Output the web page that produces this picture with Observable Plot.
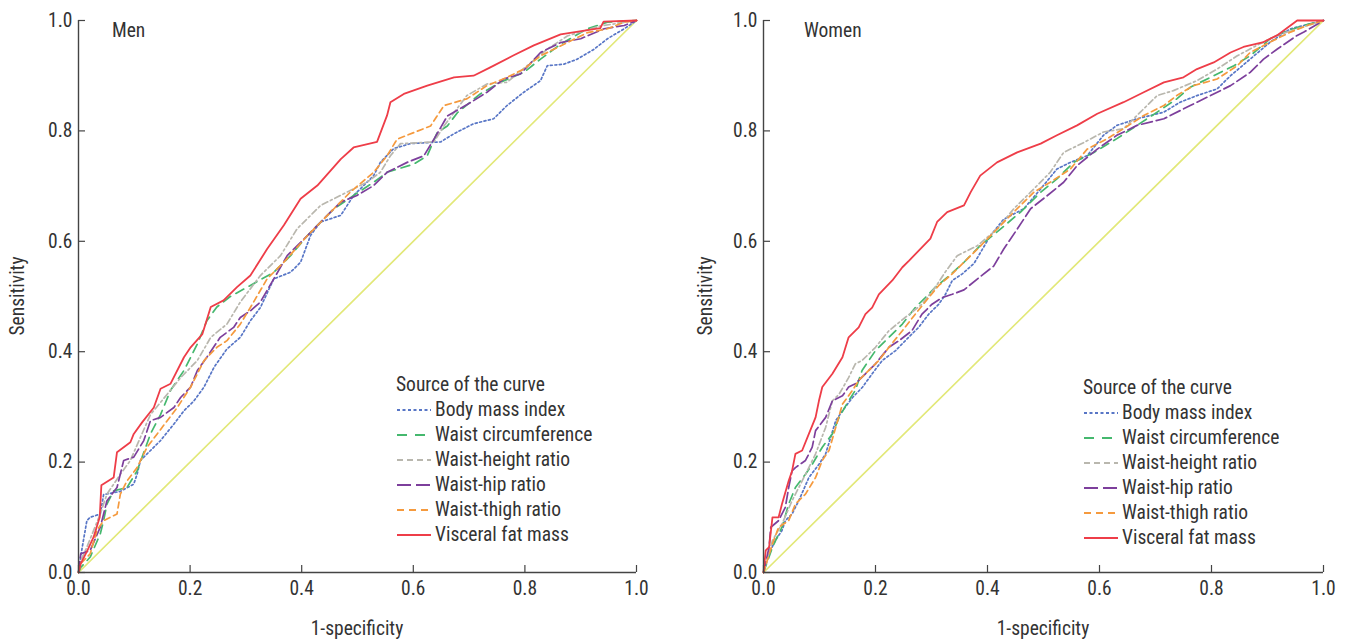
<!DOCTYPE html>
<html><head><meta charset="utf-8">
<script src="https://cdn.jsdelivr.net/npm/d3@7"></script>
<script src="https://cdn.jsdelivr.net/npm/@observablehq/plot@0.6"></script>
<style>
body{margin:0;background:#fff;}
#wrap{position:relative;width:1345px;height:641px;overflow:hidden;font-family:"Liberation Sans Narrow","Arial Narrow","Roboto Condensed",sans-serif;color:#333;}
.panel{position:absolute;top:0;}
.lbl{position:absolute;font-size:19.5px;white-space:nowrap;line-height:22px;}
.rot{transform:translate(-50%,-50%) rotate(-90deg);}
.ctr{transform:translate(-50%,-50%);}
.legend{position:absolute;font-size:19.5px;line-height:25px;white-space:nowrap;}
.legend div{height:25px;}
.legend svg{vertical-align:top;}
</style></head>
<body><div id="wrap"></div>
<script>
// ---- data ----
const seriesNames = ["Body mass index","Waist circumference","Waist-height ratio","Waist-hip ratio","Waist-thigh ratio","Visceral fat mass"];
const seriesColors = ["#5876c6","#45b86e","#b9b7ae","#7d3f9c","#f59a3e","#ee3d48"];
const seriesDash = ["2,2.5","9,6","6,3,2,3","11,4","6,4",null];
const legendDash = ["3,2.5","10,8","6,4","14,5","7,5",null];
const refColor = "#e2e878";
const xTicks = [0,0.2,0.4,0.6,0.8,1.0];
const yTicks = [0,0.2,0.4,0.6,0.8,1.0];
const refLine = [[0,0],[1,1]];

const menBMI = [[0,0],[0.004,0.03],[0.015,0.094],[0.021,0.1],[0.039,0.106],[0.045,0.141],[0.075,0.147],[0.099,0.16],[0.105,0.178],[0.111,0.203],[0.129,0.221],[0.147,0.239],[0.171,0.269],[0.189,0.293],[0.207,0.311],[0.225,0.336],[0.243,0.372],[0.266,0.405],[0.29,0.426],[0.308,0.456],[0.326,0.48],[0.35,0.532],[0.38,0.544],[0.398,0.562],[0.416,0.611],[0.434,0.635],[0.47,0.647],[0.493,0.683],[0.511,0.701],[0.529,0.719],[0.541,0.743],[0.565,0.768],[0.595,0.777],[0.649,0.78],[0.673,0.795],[0.708,0.813],[0.744,0.822],[0.768,0.846],[0.798,0.87],[0.828,0.891],[0.84,0.918],[0.87,0.921],[0.894,0.93],[0.924,0.948],[0.948,0.967],[0.978,0.985],[1,1]];
const menWC = [[0,0],[0.004,0.009],[0.021,0.028],[0.039,0.07],[0.045,0.094],[0.051,0.124],[0.063,0.148],[0.087,0.154],[0.105,0.184],[0.129,0.251],[0.147,0.286],[0.165,0.33],[0.189,0.366],[0.213,0.414],[0.23,0.456],[0.248,0.481],[0.272,0.5],[0.308,0.52],[0.35,0.544],[0.38,0.574],[0.41,0.61],[0.434,0.635],[0.458,0.659],[0.493,0.683],[0.529,0.707],[0.553,0.725],[0.601,0.74],[0.625,0.755],[0.643,0.797],[0.661,0.809],[0.679,0.833],[0.72,0.867],[0.756,0.888],[0.798,0.906],[0.828,0.93],[0.864,0.957],[0.912,0.985],[0.948,0.997],[1,1]];
const menWHtR = [[0,0],[0.004,0.021],[0.015,0.046],[0.039,0.106],[0.051,0.142],[0.075,0.178],[0.093,0.203],[0.111,0.245],[0.129,0.286],[0.159,0.323],[0.183,0.353],[0.213,0.384],[0.237,0.426],[0.266,0.45],[0.29,0.49],[0.326,0.538],[0.362,0.574],[0.392,0.623],[0.434,0.665],[0.481,0.689],[0.517,0.707],[0.541,0.725],[0.559,0.755],[0.577,0.777],[0.637,0.78],[0.655,0.809],[0.696,0.864],[0.732,0.885],[0.768,0.888],[0.804,0.918],[0.84,0.948],[0.876,0.972],[0.935,0.99],[1,1]];
const menWHR = [[0,0],[0.004,0.034],[0.021,0.04],[0.039,0.082],[0.051,0.13],[0.069,0.154],[0.081,0.203],[0.099,0.209],[0.117,0.239],[0.129,0.275],[0.147,0.281],[0.171,0.299],[0.183,0.317],[0.201,0.336],[0.213,0.366],[0.23,0.39],[0.254,0.426],[0.278,0.444],[0.29,0.462],[0.308,0.474],[0.326,0.49],[0.35,0.532],[0.374,0.574],[0.41,0.61],[0.434,0.635],[0.47,0.671],[0.499,0.683],[0.529,0.701],[0.553,0.725],[0.589,0.743],[0.619,0.755],[0.637,0.785],[0.661,0.827],[0.702,0.851],[0.732,0.87],[0.762,0.894],[0.792,0.903],[0.828,0.942],[0.864,0.96],[0.9,0.967],[0.942,0.985],[0.978,0.991],[1,1]];
const menWTR = [[0,0],[0.004,0.016],[0.021,0.034],[0.033,0.076],[0.045,0.094],[0.069,0.106],[0.075,0.142],[0.087,0.166],[0.105,0.19],[0.123,0.227],[0.141,0.251],[0.159,0.275],[0.177,0.299],[0.201,0.336],[0.225,0.384],[0.248,0.408],[0.266,0.42],[0.29,0.45],[0.308,0.48],[0.338,0.532],[0.368,0.562],[0.41,0.61],[0.452,0.653],[0.487,0.689],[0.529,0.725],[0.553,0.755],[0.571,0.785],[0.601,0.797],[0.631,0.809],[0.655,0.846],[0.696,0.858],[0.732,0.882],[0.768,0.897],[0.798,0.912],[0.828,0.936],[0.876,0.96],[0.912,0.978],[0.948,0.985],[0.978,0.997],[1,1]];
const menVFM = [[0,0],[0.004,0.016],[0.016,0.04],[0.027,0.064],[0.038,0.1],[0.041,0.158],[0.063,0.172],[0.069,0.218],[0.093,0.236],[0.099,0.251],[0.114,0.272],[0.135,0.299],[0.147,0.333],[0.165,0.342],[0.189,0.39],[0.201,0.408],[0.222,0.432],[0.237,0.481],[0.26,0.493],[0.284,0.517],[0.308,0.538],[0.338,0.586],[0.368,0.629],[0.398,0.677],[0.428,0.701],[0.47,0.749],[0.493,0.77],[0.535,0.78],[0.553,0.828],[0.559,0.852],[0.583,0.867],[0.625,0.882],[0.673,0.897],[0.708,0.9],[0.738,0.915],[0.78,0.937],[0.816,0.955],[0.864,0.975],[0.935,0.986],[0.941,0.998],[1,1]];

const womenBMI = [[0,0],[0.01,0.034],[0.021,0.058],[0.033,0.076],[0.039,0.094],[0.051,0.106],[0.063,0.13],[0.081,0.172],[0.099,0.196],[0.111,0.215],[0.129,0.275],[0.141,0.293],[0.159,0.317],[0.177,0.336],[0.194,0.36],[0.212,0.384],[0.236,0.402],[0.259,0.426],[0.277,0.444],[0.295,0.468],[0.313,0.486],[0.325,0.504],[0.337,0.529],[0.355,0.541],[0.376,0.56],[0.405,0.61],[0.429,0.64],[0.465,0.659],[0.495,0.695],[0.524,0.731],[0.548,0.743],[0.578,0.755],[0.607,0.792],[0.631,0.81],[0.667,0.822],[0.715,0.834],[0.744,0.852],[0.774,0.864],[0.81,0.876],[0.834,0.9],[0.869,0.93],[0.905,0.961],[0.941,0.985],[1,1]];
const womenWC = [[0,0],[0.016,0.046],[0.033,0.082],[0.045,0.124],[0.057,0.154],[0.075,0.178],[0.087,0.196],[0.105,0.227],[0.123,0.251],[0.135,0.281],[0.152,0.311],[0.164,0.33],[0.176,0.366],[0.188,0.384],[0.2,0.402],[0.224,0.426],[0.248,0.45],[0.271,0.48],[0.289,0.498],[0.307,0.517],[0.331,0.537],[0.358,0.562],[0.387,0.592],[0.423,0.622],[0.459,0.653],[0.495,0.689],[0.524,0.713],[0.554,0.743],[0.59,0.761],[0.631,0.786],[0.667,0.81],[0.703,0.834],[0.738,0.858],[0.762,0.879],[0.804,0.9],[0.84,0.918],[0.869,0.936],[0.905,0.967],[0.929,0.979],[0.965,0.991],[1,1]];
const womenWHtR = [[0,0],[0.016,0.058],[0.033,0.088],[0.051,0.13],[0.069,0.166],[0.081,0.19],[0.093,0.215],[0.111,0.263],[0.123,0.311],[0.135,0.323],[0.152,0.353],[0.164,0.378],[0.176,0.384],[0.2,0.408],[0.224,0.438],[0.253,0.462],[0.283,0.486],[0.307,0.517],[0.325,0.545],[0.346,0.574],[0.382,0.592],[0.417,0.622],[0.447,0.659],[0.477,0.689],[0.512,0.725],[0.536,0.761],[0.572,0.779],[0.607,0.798],[0.643,0.804],[0.673,0.834],[0.703,0.864],[0.732,0.873],[0.774,0.891],[0.81,0.912],[0.846,0.936],[0.881,0.955],[0.917,0.973],[0.953,0.985],[1,1]];
const womenWHR = [[0,0],[0.01,0.046],[0.013,0.082],[0.027,0.094],[0.039,0.118],[0.045,0.154],[0.051,0.184],[0.057,0.19],[0.075,0.203],[0.087,0.227],[0.093,0.257],[0.111,0.281],[0.123,0.311],[0.141,0.32],[0.152,0.336],[0.164,0.342],[0.182,0.36],[0.2,0.378],[0.224,0.408],[0.242,0.42],[0.265,0.438],[0.283,0.468],[0.301,0.486],[0.319,0.498],[0.337,0.504],[0.358,0.512],[0.387,0.536],[0.411,0.555],[0.429,0.586],[0.453,0.622],[0.477,0.659],[0.507,0.683],[0.536,0.707],[0.56,0.737],[0.596,0.767],[0.631,0.792],[0.667,0.81],[0.715,0.822],[0.762,0.846],[0.798,0.864],[0.834,0.882],[0.869,0.906],[0.893,0.93],[0.917,0.948],[0.953,0.973],[0.965,0.979],[1,1]];
const womenWTR = [[0,0],[0.016,0.052],[0.027,0.082],[0.045,0.094],[0.057,0.124],[0.075,0.142],[0.093,0.172],[0.105,0.203],[0.117,0.221],[0.129,0.263],[0.141,0.305],[0.159,0.33],[0.17,0.348],[0.188,0.366],[0.206,0.384],[0.224,0.408],[0.248,0.438],[0.271,0.468],[0.295,0.498],[0.313,0.52],[0.337,0.541],[0.355,0.559],[0.382,0.586],[0.411,0.616],[0.447,0.653],[0.483,0.689],[0.512,0.707],[0.548,0.731],[0.578,0.767],[0.614,0.786],[0.643,0.804],[0.679,0.828],[0.715,0.846],[0.738,0.864],[0.768,0.882],[0.81,0.894],[0.846,0.918],[0.869,0.942],[0.905,0.961],[0.941,0.979],[0.971,0.991],[1,1]];
const womenVFM = [[0,0],[0.004,0.04],[0.01,0.046],[0.016,0.1],[0.027,0.1],[0.033,0.124],[0.045,0.166],[0.051,0.184],[0.057,0.215],[0.069,0.221],[0.081,0.251],[0.093,0.281],[0.099,0.311],[0.105,0.336],[0.123,0.36],[0.141,0.39],[0.152,0.426],[0.17,0.444],[0.182,0.468],[0.194,0.48],[0.206,0.504],[0.23,0.529],[0.248,0.553],[0.26,0.565],[0.298,0.605],[0.31,0.635],[0.328,0.653],[0.358,0.665],[0.37,0.689],[0.387,0.719],[0.417,0.743],[0.453,0.761],[0.495,0.777],[0.524,0.792],[0.56,0.81],[0.596,0.831],[0.643,0.852],[0.679,0.87],[0.715,0.888],[0.75,0.897],[0.774,0.912],[0.804,0.924],[0.834,0.942],[0.857,0.952],[0.893,0.961],[0.917,0.973],[0.941,0.991],[0.953,1],[1,1]];

const panels = [
  {title:"Men", series:[menBMI,menWC,menWHtR,menWHR,menWTR,menVFM], left:0, width:672, ml:78, mr:36,
   titlePos:[112,31], yLab:[18,296], xLab:[357,629], legend:[396,372]},
  {title:"Women", series:[womenBMI,womenWC,womenWHtR,womenWHR,womenWTR,womenVFM], left:672, width:673, ml:91, mr:22,
   titlePos:[804,31], yLab:[706,296], xLab:[1043,629], legend:[1083,375]}
];

const H = 641, MT = 20, MB = 69;
const wrap = document.getElementById("wrap");
const fontFam = '"Liberation Sans Narrow","Arial Narrow","Roboto Condensed",sans-serif';

panels.forEach(p => {
  const plotW = p.width - p.ml - p.mr, plotH = H - MT - MB;
  const marks = [
    Plot.line(refLine, {x: d => d[0], y: d => d[1], stroke: refColor, strokeWidth: 1.7})
  ];
  p.series.forEach((s, i) => {
    marks.push(Plot.line(s, {x: d => d[0], y: d => d[1], stroke: seriesColors[i],
      strokeWidth: i === 5 ? 1.8 : 1.7, strokeDasharray: seriesDash[i] || undefined}));
  });
  marks.push(
    Plot.ruleX([0], {stroke: "#444", strokeWidth: 1.4}),
    Plot.ruleY([0], {stroke: "#444", strokeWidth: 1.4}),
    Plot.tickX(xTicks, {x: d => d, stroke: "#444", strokeWidth: 1.2, insetTop: plotH - 7}),
    Plot.tickY(yTicks, {y: d => d, stroke: "#444", strokeWidth: 1.2, insetRight: plotW - 7}),
    Plot.axisX(xTicks, {tickSize: 0, tickPadding: 9, tickFormat: d3.format(".1f"), label: null, fill: "#333"}),
    Plot.axisY(yTicks, {tickSize: 0, tickPadding: 6, tickFormat: d3.format(".1f"), label: null, fill: "#333"})
  );
  const chart = Plot.plot({
    width: p.width, height: H,
    marginLeft: p.ml, marginRight: p.mr, marginTop: MT, marginBottom: MB,
    x: {domain: [0, 1]}, y: {domain: [0, 1]},
    style: {fontSize: "19.5px", fontFamily: fontFam, background: "transparent", color: "#333"},
    marks
  });
  chart.classList.add("panel");
  chart.style.left = p.left + "px";
  wrap.appendChild(chart);

  const t = document.createElement("div");
  t.className = "lbl"; t.textContent = p.title;
  t.style.left = p.titlePos[0] + "px"; t.style.top = (p.titlePos[1] - 11) + "px";
  wrap.appendChild(t);

  const yl = document.createElement("div");
  yl.className = "lbl rot"; yl.textContent = "Sensitivity";
  yl.style.left = p.yLab[0] + "px"; yl.style.top = p.yLab[1] + "px";
  wrap.appendChild(yl);

  const xl = document.createElement("div");
  xl.className = "lbl ctr"; xl.textContent = "1-specificity";
  xl.style.left = p.xLab[0] + "px"; xl.style.top = p.xLab[1] + "px";
  wrap.appendChild(xl);

  const lg = document.createElement("div");
  lg.className = "legend";
  lg.style.left = p.legend[0] + "px"; lg.style.top = p.legend[1] + "px";
  let html = `<div>Source of the curve</div>`;
  seriesNames.forEach((n, i) => {
    const dash = legendDash[i] ? `stroke-dasharray="${legendDash[i]}"` : "";
    html += `<div><svg width="35" height="25"><line x1="1" x2="35" y1="13" y2="13" stroke="${seriesColors[i]}" stroke-width="2" ${dash}/></svg><span style="margin-left:4px">${n}</span></div>`;
  });
  lg.innerHTML = html;
  wrap.appendChild(lg);
});
</script></body></html>
